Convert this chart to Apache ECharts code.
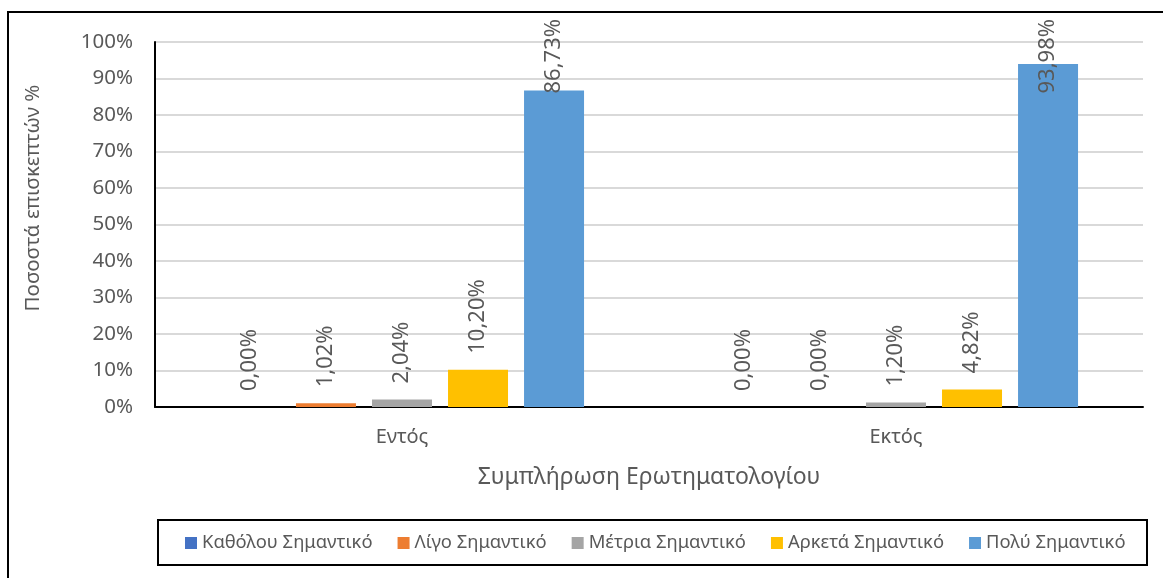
<!DOCTYPE html>
<html>
<head>
<meta charset="utf-8">
<script src="https://cdn.jsdelivr.net/npm/echarts@6/dist/echarts.min.js"></script>
<style>
  html, body { margin: 0; padding: 0; background: #fff; }
  #chart { width: 1163px; height: 578px; }
</style>
</head>
<body>
<div id="chart"></div>
<script>
// categories and series
const categories = ['Εντός', 'Εκτός']
const seriesNames = ['Καθόλου Σημαντικό', 'Λίγο Σημαντικό', 'Μέτρια Σημαντικό', 'Αρκετά Σημαντικό', 'Πολύ Σημαντικό']
const notAtAll = [0.00, 0.00]
const little = [1.02, 0.00]
const moderate = [2.04, 1.20]
const quite = [10.20, 4.82]
const very = [86.73, 93.98]
const colors = ['#4472C4', '#ED7D31', '#A5A5A5', '#FFC000', '#5B9BD5']

const font = 'Noto Sans'
const textColor = '#595959'
const labelTopLimit = 19

const chart = echarts.init(document.getElementById('chart'))

const seriesData = [notAtAll, little, moderate, quite, very]

const series = seriesData.map((data, i) => ({
  name: seriesNames[i],
  type: 'bar',
  data: data,
  barWidth: 60,
  barGap: '26.7%',
  itemStyle: { color: colors[i] },
  label: {
    show: true,
    position: 'top',
    distance: 16,
    rotate: 90,
    align: 'left',
    verticalAlign: 'middle',
    color: textColor,
    fontFamily: font,
    fontSize: 22,
    formatter: (p) => p.value.toFixed(2).replace('.', ',') + '%'
  },
  // push labels that don't fit back into the chart area
  labelLayout: (params) => {
    const len = Math.max(params.labelRect.width, params.labelRect.height)
    const anchorY = params.rect.y - 16
    if (anchorY - len < labelTopLimit) {
      return { y: labelTopLimit + len }
    }
    return {}
  }
}))

const option = {
  animation: false,
  color: colors,
  grid: {
    left: 155,
    right: 20,
    top: 42,
    bottom: 171
  },
  legend: {
    data: seriesNames,
    left: 185,
    top: 534,
    padding: 0,
    itemWidth: 12,
    itemHeight: 12,
    itemGap: 25,
    icon: 'rect',
    textStyle: { color: textColor, fontFamily: font, fontSize: 18.4 }
  },
  xAxis: {
    type: 'category',
    data: categories,
    name: 'Συμπλήρωση Ερωτηματολογίου',
    nameLocation: 'middle',
    nameGap: 59,
    nameTextStyle: { color: textColor, fontFamily: font, fontSize: 23 },
    axisLine: { lineStyle: { color: '#000', width: 2 } },
    axisTick: { show: false },
    axisLabel: { color: textColor, fontFamily: font, fontSize: 20, margin: 20 }
  },
  yAxis: {
    type: 'value',
    min: 0,
    max: 100,
    interval: 10,
    axisLine: { show: true, lineStyle: { color: '#000', width: 2 } },
    axisTick: { show: false },
    splitLine: { lineStyle: { color: '#D9D9D9', width: 2 } },
    axisLabel: {
      color: textColor,
      fontFamily: font,
      fontSize: 20.5,
      margin: 22,
      formatter: '{value}%'
    }
  },
  graphic: [
    {
      type: 'rect',
      shape: { x: 8, y: 12, width: 1200, height: 620 },
      style: { fill: 'none', stroke: '#000', lineWidth: 2 },
      silent: true
    },
    {
      type: 'rect',
      shape: { x: 158, y: 520, width: 989, height: 45 },
      style: { fill: 'none', stroke: '#000', lineWidth: 2 },
      silent: true
    },
    {
      type: 'text',
      x: 33,
      y: 198,
      rotation: Math.PI / 2,
      style: {
        text: 'Ποσοστά επισκεπτών %',
        fill: textColor,
        font: '20.5px "Noto Sans"',
        align: 'center',
        verticalAlign: 'middle'
      }
    }
  ],
  series: series
}

chart.setOption(option)
</script>
</body>
</html>
